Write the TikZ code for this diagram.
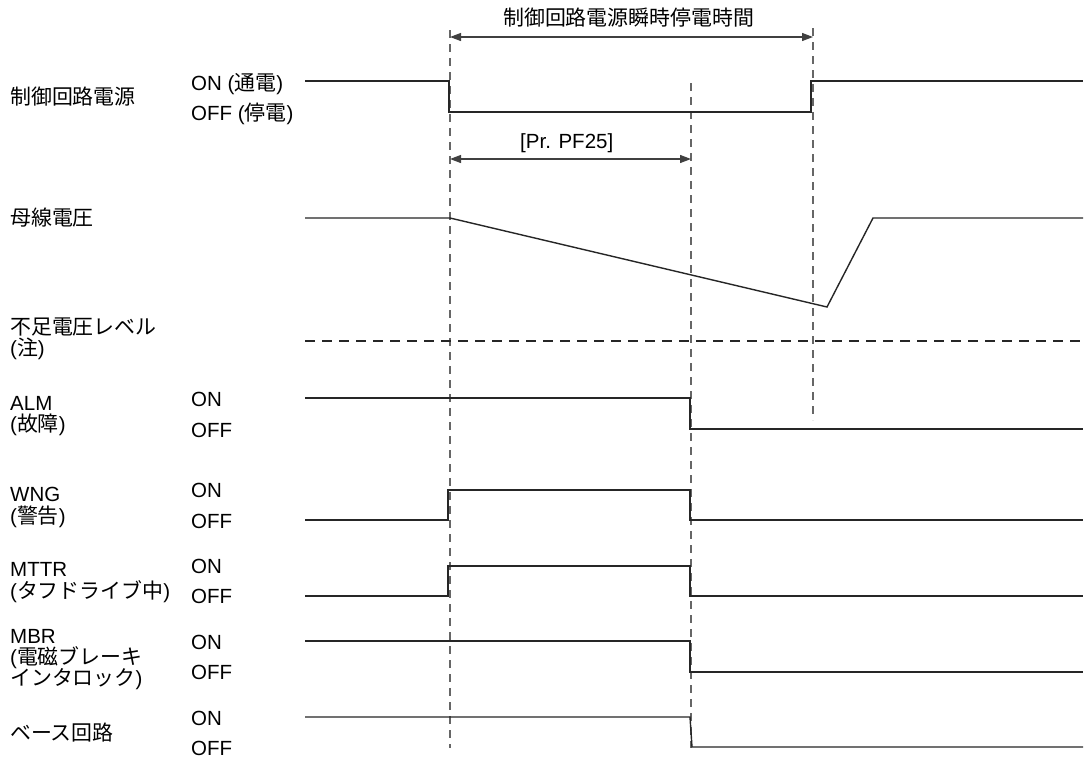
\documentclass[tikz,border=0pt]{standalone}
\usepackage{fontspec}
\setmainfont{Liberation Sans}
\newfontfamily\cjk[Scale=1.02]{Noto Sans CJK JP}
\usetikzlibrary{arrows.meta}
\newcommand{\jp}[1]{{\cjk #1}}
\begin{document}
\begin{tikzpicture}[x=1pt,y=-1pt,
  lbl/.style={anchor=base west,inner sep=0pt,font=\fontsize{20.5}{22}\selectfont},
  sig/.style={line width=1.4pt,black!85},
  vguide/.style={line width=1.2pt,black!60,dash pattern=on 8pt off 6pt},
  hguide/.style={line width=1.2pt,black!85,dash pattern=on 10pt off 7pt},
  dim/.style={line width=1.2pt,black!75,{Triangle[length=11pt,width=8pt]}-{Triangle[length=11pt,width=8pt]}}]
\useasboundingbox (0,0) rectangle (1085,758);
\fill[white] (0,0) rectangle (1085,758);

% guide lines
\coordinate (t1top) at (450,30);  \coordinate (t1bot) at (450,748);
\coordinate (t2top) at (691,83);  \coordinate (t2bot) at (691,748);
\coordinate (t3top) at (813,28);  \coordinate (t3bot) at (813,420);
\draw[vguide] (t1top) -- (t1bot);
\draw[vguide] (t2top) -- (t2bot);
\draw[vguide] (t3top) -- (t3bot);

% dimension arrows
\coordinate (a1l) at (450,37); \coordinate (a1r) at (813,37);
\coordinate (a2l) at (450,159); \coordinate (a2r) at (691,159);
\draw[dim] (a1l) -- (a1r);
\draw[dim] (a2l) -- (a2r);
\node[lbl] (title) at (503,25) {\jp{制御回路電源瞬時停電時間}};
\node[lbl] (pf25) at (520,148) {[Pr. PF25]};

% left labels
\node[lbl] (l1) at (10,104) {\jp{制御回路電源}};
\node[lbl] (l2) at (10,225) {\jp{母線電圧}};
\node[lbl] (l3a) at (10,334) {\jp{不足電圧レベル}};
\node[lbl] (l3b) at (10,355) {(\jp{注})};
\node[lbl] (l4a) at (10,410) {ALM};
\node[lbl] (l4b) at (10,431) {(\jp{故障})};
\node[lbl] (l5a) at (10,501) {WNG};
\node[lbl] (l5b) at (10,523) {(\jp{警告})};
\node[lbl] (l6a) at (10,576) {MTTR};
\node[lbl] (l6b) at (10,598) {(\jp{タフドライブ中})};
\node[lbl] (l7a) at (10,643) {MBR};
\node[lbl] (l7b) at (10,664) {(\jp{電磁ブレーキ}};
\node[lbl] (l7c) at (10,685) {\jp{インタロック})};
\node[lbl] (l8) at (10,740) {\jp{ベース回路}};

% ON / OFF labels
\node[lbl] (s1on) at (191,90) {ON (\jp{通電})};
\node[lbl] (s1off) at (191,120) {OFF (\jp{停電})};
\node[lbl] (s4on) at (191,406) {ON};
\node[lbl] (s4off) at (191,437) {OFF};
\node[lbl] (s5on) at (191,497) {ON};
\node[lbl] (s5off) at (191,528) {OFF};
\node[lbl] (s6on) at (191,573) {ON};
\node[lbl] (s6off) at (191,603) {OFF};
\node[lbl] (s7on) at (191,649) {ON};
\node[lbl] (s7off) at (191,679) {OFF};
\node[lbl] (s8on) at (191,725) {ON};
\node[lbl] (s8off) at (191,755) {OFF};

% signals
\draw[sig] (305,81) -- (449,81) -- (449,112) -- (811,112) -- (811,81) -- (1083,81);
\draw[sig] (305,218) -- (450,218) -- (827,307) -- (873,218) -- (1083,218);
\draw[hguide] (305,341) -- (1085,341);
\draw[sig] (305,398) -- (690,398) -- (690,429) -- (1083,429);
\draw[sig] (305,520) -- (448,520) -- (448,490) -- (690,490) -- (690,520) -- (1083,520);
\draw[sig] (305,596) -- (448,596) -- (448,566) -- (690,566) -- (690,596) -- (1083,596);
\draw[sig] (305,641) -- (690,641) -- (690,672) -- (1083,672);
\draw[sig] (305,717) -- (690,717) -- (692,747) -- (1083,747);
\end{tikzpicture}
\end{document}
